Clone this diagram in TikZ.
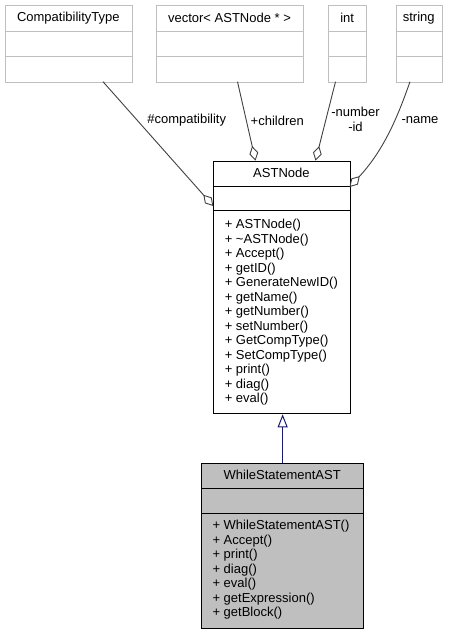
\documentclass[tikz,border=0pt]{standalone}
\usepackage{fontspec}
\setmainfont{Liberation Sans}
\usetikzlibrary{arrows.meta,calc}
\definecolor{grey75}{HTML}{BFBFBF}
\definecolor{grey25}{HTML}{404040}
\definecolor{midblue}{HTML}{191970}
\begin{document}
\begin{tikzpicture}[x=1pt,y=-1pt,
  every node/.style={font=\fontsize{13}{14.5}\selectfont, inner sep=0pt, text=black},
  otherbox/.style={draw=grey75, line width=1pt, fill=white, anchor=north west},
  mainbox/.style={draw=black, line width=1pt, anchor=north west},
  member/.style={anchor=west, text height=9.5pt, text depth=2.8pt},
  elabel/.style={align=center},
  assoc/.style={grey25, line width=0.9pt, -{Diamond[open,length=15pt,width=9pt]}},
  inherit/.style={midblue, line width=1pt, -{Triangle[open,length=13pt,width=10pt]}}]
\useasboundingbox (0,0) rectangle (456,633);

% ---- top classes ----
\node[otherbox, minimum width=126.7pt, minimum height=76.7pt] (compat) at (5,5) {};
\draw[grey75, line width=1pt] (5,31.7) -- (131.7,31.7) (5,56.7) -- (131.7,56.7);
\node (compatT) at (68.35,18.3) {CompatibilityType};

\node[otherbox, minimum width=147.6pt, minimum height=76.7pt] (vec) at (155.7,5) {};
\draw[grey75, line width=1pt] (155.7,31.7) -- (303.3,31.7) (155.7,56.7) -- (303.3,56.7);
\node (vecT) at (229.5,18.3) {vector< ASTNode * >};

\node[otherbox, minimum width=37.7pt, minimum height=76.7pt] (int) at (328.3,5) {};
\draw[grey75, line width=1pt] (328.3,31.7) -- (366,31.7) (328.3,56.7) -- (366,56.7);
\node (intT) at (347.15,18.3) {int};

\node[otherbox, minimum width=46pt, minimum height=76.7pt] (str) at (395.7,5) {};
\draw[grey75, line width=1pt] (395.7,31.7) -- (441.7,31.7) (395.7,56.7) -- (441.7,56.7);
\node (strT) at (418.7,18.3) {string};

% ---- ASTNode ----
\node[mainbox, fill=white, minimum width=136.2pt, minimum height=252.6pt] (ast) at (213.3,160.7) {};
\draw[black, line width=1pt] (213.3,186) -- (349.5,186) (213.3,210.7) -- (349.5,210.7);
\node (astT) at (281.4,173.3) {ASTNode};
\foreach \t [count=\i] in {+ ASTNode(), + \textasciitilde ASTNode(), + Accept(), + getID(),
  + GenerateNewID(), + getName(), + getNumber(), + setNumber(), + GetCompType(),
  + SetCompType(), + print(), + diag(), + eval()}
  \node[member] (astm\i) at (224.6,{225.5+(\i-1)*14.5}) {\t};

% ---- WhileStatementAST ----
\node[mainbox, fill=grey75, minimum width=162.3pt, minimum height=165.3pt] (wh) at (201,462.7) {};
\draw[black, line width=1pt] (201,488) -- (363.3,488) (201,513) -- (363.3,513);
\node (whT) at (282.2,475.3) {WhileStatementAST};
\foreach \t [count=\i] in {+ WhileStatementAST(), + Accept(), + print(), + diag(),
  + eval(), + getExpression(), + getBlock()}
  \node[member] (whm\i) at (212.3,{526.5+(\i-1)*14.5}) {\t};

% ---- connector end points ----
\coordinate (cS) at (103,81.7);
\coordinate (vS) at (237.5,81.7);
\coordinate (iS) at (335.5,81.7);
\coordinate (sS) at (410,81.7);
\coordinate (aL) at (213.3,206);
\coordinate (aV) at (255.5,160.7);
\coordinate (aI) at (315.5,160.7);
\coordinate (aR) at (349.5,187);

\draw[assoc] (cS) -- (aL);
\draw[assoc] (vS) -- (aV);
\draw[assoc] (iS) -- (aI);
\draw[assoc] (sS) .. controls (400,110) and (386,148) .. (aR);

\node[elabel] (lc) at (186.7,120.5) {\#compatibility};
\node[elabel] (lv) at (277.3,120.5) {+children};
\node[elabel] (ln) at (355.5,112) {-number};
\node[elabel] (li) at (355.5,127) {-id};
\node[elabel] (ls) at (420,120.5) {-name};

% ---- inheritance ----
\draw[inherit] (wh.north) -- (wh.north |- ast.south);
\end{tikzpicture}
\end{document}
